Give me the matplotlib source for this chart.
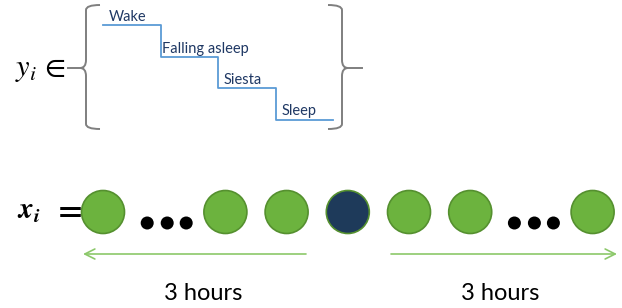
import matplotlib
matplotlib.use("Agg")
import matplotlib.pyplot as plt
from matplotlib.patches import Circle, PathPatch
from matplotlib.path import Path

# Data: label states and the sequence of observations around the target
states = ["Wake", "Falling asleep", "Siesta", "Sleep"]
sequence = ["obs", "gap", "obs", "obs", "target", "obs", "obs", "gap", "obs"]
window_labels = ["3 hours", "3 hours"]

plt.rcParams['font.family'] = ['Lato', 'DejaVu Sans']
plt.rcParams['mathtext.fontset'] = 'stix'

fig = plt.figure(figsize=(6.22, 3.08), dpi=100)
ax = fig.add_axes([0, 0, 1, 1])
ax.set_xlim(0, 622)
ax.set_ylim(308, 0)
ax.axis('off')

# ---- top: y_i in { staircase } ----
ax.text(15, 70, r'$y_i\,\in$', fontsize=22, va='center', ha='left', color='black')

def brace(x_edge, x_spine, x_tip, x_tick, top, bottom, mid):
    r = 5
    verts = [(x_edge, top), (x_spine, top), (x_spine, top + r),
             (x_spine, mid - 8), (x_spine, mid), (x_tip, mid),
             (x_spine, mid), (x_spine, mid + 8),
             (x_spine, bottom - r), (x_spine, bottom), (x_edge, bottom)]
    codes = [Path.MOVETO, Path.CURVE3, Path.CURVE3,
             Path.LINETO, Path.CURVE3, Path.CURVE3,
             Path.CURVE3, Path.CURVE3,
             Path.LINETO, Path.CURVE3, Path.CURVE3]
    ax.add_patch(PathPatch(Path(verts, codes), fill=False, ec='#7f7f7f', lw=1.4))
    ax.plot([x_tip, x_tick], [mid, mid], color='#7f7f7f', lw=1.4)

brace(100, 86, 80, 68, 5, 129, 68)
brace(328, 342, 348, 362, 5, 129, 68)

step_x0, step_w = 103, 57.5
step_y0, step_h = 25, 31.5
edges = [step_x0 + i * step_w for i in range(len(states) + 1)]
levels = [step_y0 + i * step_h for i in range(len(states))]
ax.step(edges, levels + [levels[-1]], where='post', color='#5b9bd5', lw=1.3)
for i, s in enumerate(states):
    ax.text(edges[i] + 6 if i != 1 else edges[i] + 2, levels[i] - 4, s,
            fontsize=10.5, color='#1f3864', ha='left', va='baseline')

# ---- bottom: x_i = sequence ----
ax.text(17, 212, r'$\mathbfit{x_i}$', fontsize=21, va='center', ha='left', color='black')
ax.text(53, 207, r'$\mathbf{=}$', fontsize=24, va='center_baseline', ha='left', color='black')

seq_x0, seq_dx, seq_y = 103, 61.2, 212
for i, kind in enumerate(sequence):
    cx = seq_x0 + i * seq_dx
    if kind == "gap":
        for dx in (-17, 3, 22):
            ax.add_patch(Circle((cx + dx, 223), 6.5, color='black', lw=0))
    else:
        fc = '#1e3a5a' if kind == "target" else '#6cb33e'
        ax.add_patch(Circle((cx, seq_y), 21.5, fc=fc, ec='#55902f', lw=1.2))

arrow_y = 254
green = '#8cc86a'
ax.annotate('', xy=(83, arrow_y), xytext=(306, arrow_y),
            arrowprops=dict(arrowstyle='->', color=green, lw=1.2,
                            mutation_scale=18, shrinkA=0, shrinkB=0))
ax.annotate('', xy=(617, arrow_y), xytext=(391, arrow_y),
            arrowprops=dict(arrowstyle='->', color=green, lw=1.2,
                            mutation_scale=18, shrinkA=0, shrinkB=0))

for xc, lab in zip([203, 500], window_labels):
    ax.text(xc, 293, lab, fontsize=17, ha='center', va='center', color='black')

fig.savefig("out.png", dpi=100)
